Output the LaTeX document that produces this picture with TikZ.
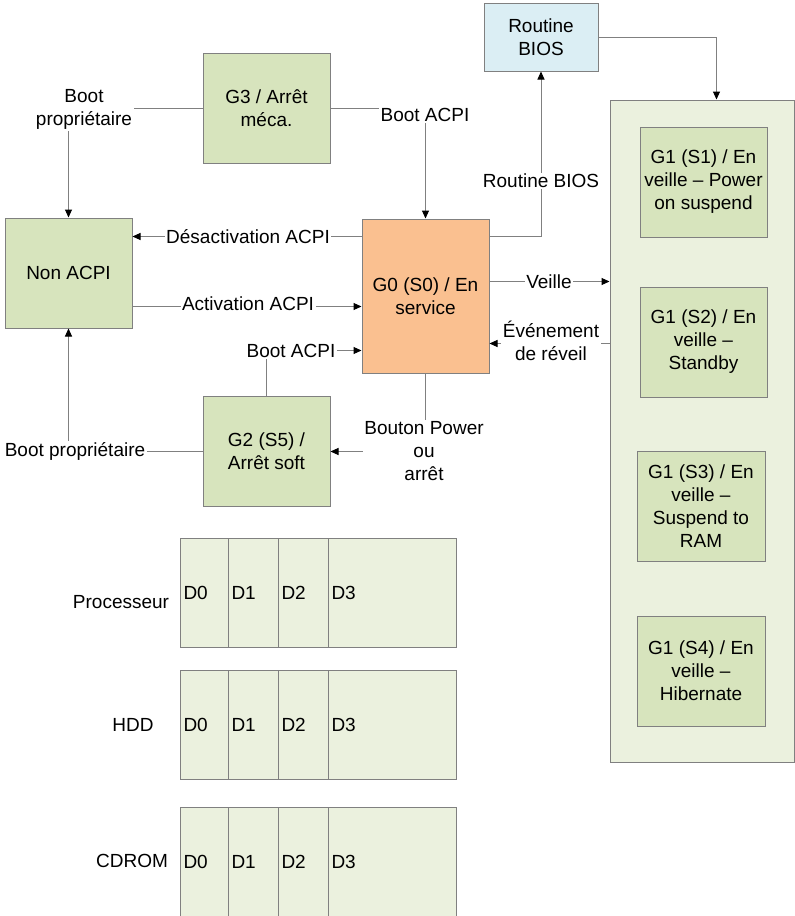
\documentclass[tikz,border=0pt]{standalone}
\usepackage{fontspec}
\setmainfont{Liberation Sans}
\usetikzlibrary{arrows.meta}
\definecolor{boxgreen}{HTML}{D7E4BD}
\definecolor{palegreen}{HTML}{EBF1DE}
\definecolor{boxorange}{HTML}{FAC090}
\definecolor{boxblue}{HTML}{DBEEF4}
\definecolor{linegray}{HTML}{808080}
\begin{document}
\begin{tikzpicture}[x=1pt,y=-1pt,font=\fontsize{19}{23}\selectfont,
  state/.style={draw=linegray,line width=1pt,fill=boxgreen,align=center,inner sep=2pt,minimum width=127pt,minimum height=110pt},
  lbl/.style={fill=white,align=center,inner sep=1.5pt},
  arr/.style={draw=linegray,line width=1pt,-{Triangle[length=8pt,width=7pt,color=black]}},
  cell/.style={draw=linegray,line width=1pt,fill=palegreen,anchor=north west,minimum height=109pt,inner xsep=3pt,outer sep=0pt,align=left}]
\useasboundingbox (0,0) rectangle (795,916);
\node[state] (g3) at (266.5,108.5) {G3 / Arrêt\\méca.};
\node[state,fill=boxblue,minimum width=114pt,minimum height=68pt] (bios) at (541,37) {Routine\\BIOS};
\node[state] (nonacpi) at (68.5,273) {Non ACPI};
\node[state,fill=boxorange,minimum height=154pt] (g0) at (425.5,296) {G0 (S0) / En\\service};
\node[state] (g2) at (266.5,451.5) {G2 (S5) /\\Arrêt soft};
\node[state,fill=palegreen,minimum width=184pt,minimum height=662pt] (g1box) at (702,431) {};
\node[state] (g1s1) at (703.5,182) {G1 (S1) / En\\veille -- Power\\on suspend};
\node[state] (g1s2) at (703.5,342) {G1 (S2) / En\\veille --\\Standby};
\node[state,minimum width=128pt] (g1s3) at (701,506) {G1 (S3) / En\\veille --\\Suspend to\\RAM};
\node[state,minimum width=128pt] (g1s4) at (701,671) {G1 (S4) / En\\veille --\\Hibernate};
\draw[arr] (g3.west) -| (nonacpi.north);
\draw[arr] (g3.east) -| (g0.north);
\draw[arr] ([yshift=-18pt]g0.north west) coordinate (d1) -- (d1 -| nonacpi.east);
\draw[arr] ([yshift=22pt]nonacpi.south east) coordinate (a1) -- (a1 -| g0.west);
\draw[arr] (g2.north) |- ([yshift=-132pt]g0.north west);
\draw[arr] (g0.south) |- (g2.east);
\draw[arr] (g2.west) -| (nonacpi.south);
\draw[arr] ([yshift=-18pt]g0.north east) -| (bios.south);
\draw[arr] (bios.east) -| ([xshift=107pt]g1box.north west);
\draw[arr] ([yshift=-63pt]g0.north east) coordinate (v1) -- (v1 -| g1box.west);
\draw[arr] ([yshift=-244pt]g1box.north west) coordinate (r1) -- (r1 -| g0.east);
\node[lbl] (bp1) at (84,109) {Boot\\propriétaire};
\node[lbl] (ba1) at (425,115) {Boot ACPI};
\node[lbl] (desact) at (248,237) {Désactivation ACPI};
\node[lbl] (act) at (248,304) {Activation ACPI};
\node[lbl] (ba2) at (291,351) {Boot ACPI};
\node[lbl] (bouton) at (424,451) {Bouton Power\\ou\\arrêt};
\node[lbl] (bp2) at (75,451) {Boot propriétaire};
\node[lbl] (rb) at (541,181) {Routine BIOS};
\node[lbl] (veille) at (549,282) {Veille};
\node[lbl] (reveil) at (551,341) {Événement\\de réveil};
\foreach \dev/\name/\top/\lx/\ly in {proc/Processeur/538/121/602,hdd/HDD/670/133/725,cdrom/CDROM/807/132/861}{
  \node[cell,text width=42pt] (\dev0) at (180.5,\top) {D0};
  \node[cell,text width=44pt] (\dev1) at (\dev0.north east) {D1};
  \node[cell,text width=44pt] (\dev2) at (\dev1.north east) {D2};
  \node[cell,text width=122pt] (\dev3) at (\dev2.north east) {D3};
  \node (\dev) at (\lx,\ly) {\name};
}
\end{tikzpicture}
\end{document}
